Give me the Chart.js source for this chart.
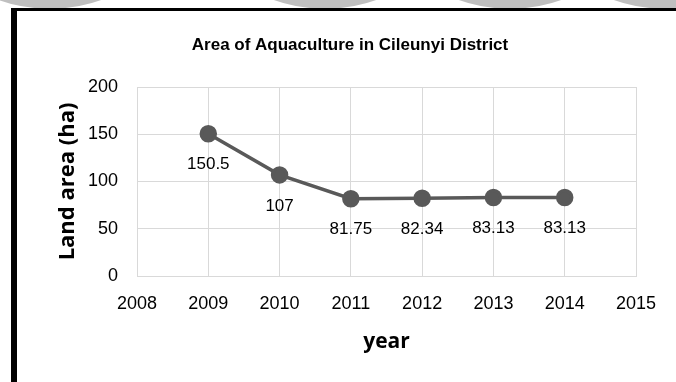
<!DOCTYPE html>
<html>
<head>
<meta charset="utf-8">
<script src="https://cdn.jsdelivr.net/npm/chart.js@4/dist/chart.umd.min.js"></script>
<style>
  html, body { margin: 0; padding: 0; background: #fff; }
  body { width: 676px; height: 382px; position: relative; overflow: hidden; }
  .blob { position: absolute; width: 300px; height: 300px; border-radius: 50%; background: #bfbfbf; top: -291px; }
  .frameTop { position: absolute; left: 11px; top: 8px; width: 665px; height: 3px; background: #000; }
  .frameLeft { position: absolute; left: 11px; top: 8px; width: 6px; height: 374px; background: #000; }
  .wrap { position: absolute; left: 17px; top: 11px; width: 659px; height: 371px; background: #fff; }
</style>
</head>
<body>
<div class="blob" style="left:-100px"></div>
<div class="blob" style="left:175px"></div>
<div class="blob" style="left:360px"></div>
<div class="blob" style="left:515px"></div>
<div class="frameTop"></div>
<div class="frameLeft"></div>
<div class="wrap"><canvas id="c" width="659" height="371"></canvas></div>
<script>
const chartTitle = 'Area of Aquaculture in Cileunyi District';
const xAxisTitle = 'year';
const yAxisTitle = 'Land area (ha)';
const tickYears = ['2008', '2009', '2010', '2011', '2012', '2013', '2014', '2015'];
const years = ['2009', '2010', '2011', '2012', '2013', '2014'];
const landArea = [150.5, 107, 81.75, 82.34, 83.13, 83.13];
const yTicks = [0, 50, 100, 150, 200];

const tickFont = { family: "'Liberation Sans', Arial, sans-serif", size: 18 };
const lineColor = '#595959';
const gridColor = '#d9d9d9';

const pointLabels = {
  id: 'pointLabels',
  afterDatasetsDraw(chart) {
    const ctx = chart.ctx;
    const meta = chart.getDatasetMeta(0);
    ctx.save();
    ctx.font = "17px 'Liberation Sans', Arial, sans-serif";
    ctx.fillStyle = '#000';
    ctx.textAlign = 'center';
    ctx.textBaseline = 'middle';
    meta.data.forEach((pt, i) => {
      ctx.fillText(String(landArea[i]), pt.x, pt.y + 31);
    });
    ctx.restore();
  }
};

const chartTitlePlugin = {
  id: 'chartTitleText',
  afterDraw(chart) {
    const ctx = chart.ctx;
    ctx.save();
    ctx.font = "bold 17px 'Liberation Sans', Arial, sans-serif";
    ctx.fillStyle = '#000';
    ctx.textAlign = 'center';
    ctx.textBaseline = 'middle';
    ctx.fillText(chartTitle, chart.width / 2 + 3.5, 34);
    ctx.restore();
  }
};

new Chart(document.getElementById('c'), {
  type: 'line',
  data: {
    labels: tickYears,
    datasets: [{
      data: years.map((y, i) => ({ x: y, y: landArea[i] })),
      borderColor: lineColor,
      backgroundColor: lineColor,
      borderWidth: 3.5,
      pointRadius: 7,
      pointHoverRadius: 7,
      pointBackgroundColor: lineColor,
      pointBorderColor: lineColor,
      tension: 0,
      fill: false
    }]
  },
  options: {
    responsive: false,
    animation: false,
    events: [],
    layout: { padding: { left: 0, right: 40, top: 76, bottom: 0 } },
    plugins: {
      legend: { display: false },
      tooltip: { enabled: false },
      title: { display: false }
    },
    scales: {
      x: {
        type: 'category',
        offset: false,
        grid: { color: gridColor, lineWidth: 1, drawTicks: false },
        border: { color: gridColor, width: 1 },
        ticks: { color: '#000', font: tickFont, padding: 17, maxRotation: 0, autoSkip: false },
        title: {
          display: true, text: xAxisTitle, color: '#000',
          font: { family: "'Open Sans', sans-serif", size: 21, weight: 'bold' },
          padding: { top: 0, bottom: 27.4 }
        },
        afterFit(scale) { scale.height = 106; }
      },
      y: {
        min: 0, max: 200,
        afterBuildTicks(scale) { scale.ticks = yTicks.map(v => ({ value: v })); },
        grid: { color: gridColor, lineWidth: 1, drawTicks: false },
        border: { color: gridColor, width: 1 },
        ticks: { color: '#000', font: tickFont, padding: 19 },
        title: {
          display: true, text: yAxisTitle, color: '#000',
          font: { family: "'Open Sans', sans-serif", size: 22, weight: 'bold' },
          padding: { top: 37.8, bottom: 0 }
        },
        afterFit(scale) { scale.width = 120; }
      }
    }
  },
  plugins: [pointLabels, chartTitlePlugin]
});
</script>
</body>
</html>
